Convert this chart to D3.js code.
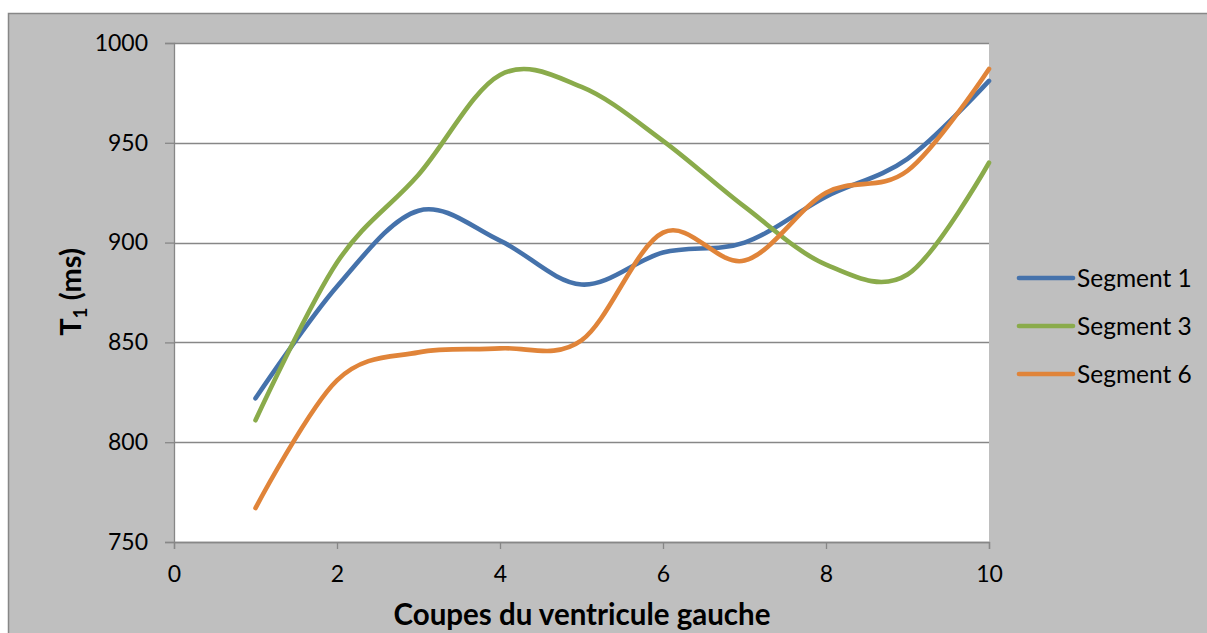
<!DOCTYPE html>
<html>
<head>
<meta charset="utf-8">
<script src="https://cdn.jsdelivr.net/npm/d3@7"></script>
<style>
  html, body { margin: 0; padding: 0; background: #ffffff; }
  svg { display: block; }
  text { font-family: Lato, "Noto Sans", sans-serif; fill: #000; }
</style>
</head>
<body>
<svg id="chart" width="1207" height="633"></svg>
<script>
// Slice index along the left ventricle
const slices = [1, 2, 3, 4, 5, 6, 7, 8, 9, 10];

// T1 values (ms) per segment
const segment1 = [822, 878, 916, 901, 879, 895, 900, 923, 942, 981];
const segment3 = [811, 890, 934, 984, 978, 951, 918, 889, 884, 940];
const segment6 = [767, 831, 845, 847, 851, 905, 891, 925, 936, 987];

const seriesNames = ["Segment 1", "Segment 3", "Segment 6"];
const seriesColors = ["#4572ab", "#8aab4b", "#e08439"];

const xTicks = [0, 2, 4, 6, 8, 10];
const yTicks = [750, 800, 850, 900, 950, 1000];

const series = [segment1, segment3, segment6].map((vals, i) => ({
  name: seriesNames[i],
  color: seriesColors[i],
  points: slices.map((s, j) => ({ x: s, y: vals[j] }))
}));

const svg = d3.select("#chart");

// chart background
svg.append("rect")
  .attr("x", 8.5).attr("y", 13.5)
  .attr("width", 1207).attr("height", 640)
  .attr("fill", "#bfbfbf")
  .attr("stroke", "#878787")
  .attr("stroke-width", 1.5);

const plot = { left: 174, right: 989, top: 43, bottom: 542 };

const x = d3.scaleLinear().domain([0, 10]).range([plot.left, plot.right]);
const y = d3.scaleLinear().domain([750, 1000]).range([plot.bottom, plot.top]);

// plot area
svg.append("rect")
  .attr("x", plot.left).attr("y", plot.top)
  .attr("width", plot.right - plot.left)
  .attr("height", plot.bottom - plot.top)
  .attr("fill", "#ffffff");

// horizontal gridlines
svg.append("g")
  .selectAll("line")
  .data(yTicks)
  .join("line")
  .attr("x1", plot.left).attr("x2", plot.right)
  .attr("y1", d => Math.round(y(d)) + 0.5)
  .attr("y2", d => Math.round(y(d)) + 0.5)
  .attr("stroke", "#878787")
  .attr("stroke-width", 1.3);

// y axis
const yAxis = svg.append("g")
  .attr("transform", `translate(${plot.left},0)`)
  .call(d3.axisLeft(y).tickValues(yTicks).tickFormat(d3.format("d")).tickSize(9).tickPadding(17));
yAxis.select(".domain").attr("stroke", "#878787").attr("stroke-width", 1.3);
yAxis.selectAll(".tick line").attr("stroke", "#878787").attr("stroke-width", 1.3);
yAxis.selectAll(".tick text")
  .attr("font-size", 23).attr("font-family", "Lato, sans-serif").attr("fill", "#000");

// x axis
const xAxis = svg.append("g")
  .attr("transform", `translate(0,${plot.bottom})`)
  .call(d3.axisBottom(x).tickValues(xTicks).tickFormat(d3.format("d")).tickSize(7).tickPadding(17));
xAxis.select(".domain").attr("stroke", "#878787").attr("stroke-width", 1.3);
xAxis.selectAll(".tick line").attr("stroke", "#878787").attr("stroke-width", 1.3);
xAxis.selectAll(".tick text")
  .attr("font-size", 23).attr("font-family", "Lato, sans-serif").attr("fill", "#000");

// smoothed series lines
const line = d3.line()
  .x(d => x(d.x))
  .y(d => y(d.y))
  .curve(d3.curveCatmullRom.alpha(0));

svg.append("g")
  .selectAll("path")
  .data(series)
  .join("path")
  .attr("d", d => line(d.points))
  .attr("fill", "none")
  .attr("stroke", d => d.color)
  .attr("stroke-width", 4.6)
  .attr("stroke-linecap", "round")
  .attr("stroke-linejoin", "round");

// axis titles
svg.append("text")
  .attr("x", 582).attr("y", 625)
  .attr("text-anchor", "middle")
  .attr("font-size", 29.5)
  .attr("font-weight", "bold")
  .text("Coupes du ventricule gauche");

const yTitle = svg.append("text")
  .attr("transform", "translate(81,292) rotate(-90)")
  .attr("text-anchor", "middle")
  .attr("font-size", 29)
  .attr("font-weight", "bold");
yTitle.append("tspan").text("T");
yTitle.append("tspan").attr("font-size", 19).attr("dy", 6).text("1");
yTitle.append("tspan").attr("dy", -6).text(" (ms)");

// legend
const legend = svg.append("g")
  .selectAll("g")
  .data(series)
  .join("g")
  .attr("transform", (d, i) => `translate(1019,${278 + i * 48})`);
legend.append("line")
  .attr("x1", 0).attr("x2", 54)
  .attr("y1", 0).attr("y2", 0)
  .attr("stroke", d => d.color)
  .attr("stroke-width", 4.6)
  .attr("stroke-linecap", "round");
legend.append("text")
  .attr("x", 58).attr("y", 0)
  .attr("dy", "0.35em")
  .attr("font-size", 24.5)
  .text(d => d.name);
</script>
</body>
</html>
